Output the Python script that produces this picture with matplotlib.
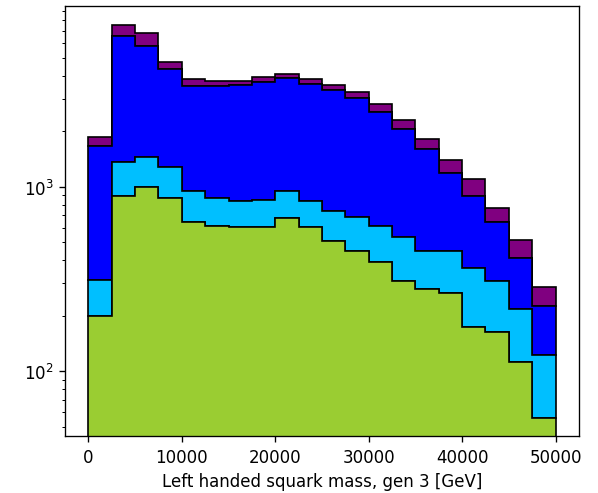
import numpy as np
import matplotlib.pyplot as plt

# 20 bins from 0 to 50000 GeV
bin_edges = np.linspace(0, 50000, 21)
bin_centers = 0.5 * (bin_edges[:-1] + bin_edges[1:])

# per-layer counts, bottom to top
green_counts = [199, 894, 992, 868, 646, 615, 603, 603, 674, 603,
                506, 450, 390, 307, 279, 266, 174, 164, 112, 56]
cyan_counts = [113, 472, 462, 406, 298, 250, 231, 244, 270, 237,
               235, 233, 225, 227, 168, 181, 189, 143, 106, 66]
blue_counts = [1356, 5161, 4308, 3066, 2581, 2634, 2722, 2831, 2922, 2747,
               2621, 2329, 1914, 1520, 1154, 739, 531, 339, 191, 103]
purple_counts = [198, 980, 1014, 414, 307, 225, 168, 236, 212, 245,
                 194, 258, 276, 253, 212, 215, 207, 118, 107, 62]

colors = ['yellowgreen', 'deepskyblue', 'blue', 'purple']

dpi = 120
fig = plt.figure(figsize=(598 / dpi, 494 / dpi), dpi=dpi)
ax = fig.add_axes([0.1087, 0.1154, 0.8593, 0.8704])

layers = [green_counts, cyan_counts, blue_counts, purple_counts]
ax.hist([bin_centers] * 4, bins=bin_edges, weights=layers, stacked=True,
        histtype='stepfilled', color=colors, edgecolor='black', linewidth=1.0)

ax.set_yscale('log')
ax.set_xlim(-2500, 52500)
ax.set_ylim(44.6, 9530)
ax.set_xlabel('Left handed squark mass, gen 3 [GeV]')

fig.savefig('out.png', dpi=dpi)
